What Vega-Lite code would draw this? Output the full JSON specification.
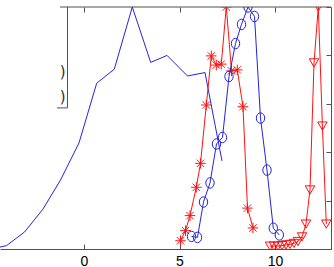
{
  "$schema": "https://vega.github.io/schema/vega-lite/v6.json",
  "width": 331,
  "height": 242,
  "autosize": {"type": "none"},
  "padding": {"left": 0, "right": 3, "top": 7, "bottom": 18},
  "background": "white",
  "config": {"view": {"stroke": null}, "axis": {"grid": false, "domainColor": "#505050", "tickColor": "#505050", "labelFont": "Liberation Sans", "labelFontSize": 14, "labelColor": "#000000"}},
  "datasets": {
    "curves": [
      {"s": "a", "x": -4.398, "y": 0.008},
      {"s": "a", "x": -4.058, "y": 0.014},
      {"s": "a", "x": -3.115, "y": 0.070},
      {"s": "a", "x": -2.147, "y": 0.165},
      {"s": "a", "x": -1.230, "y": 0.285},
      {"s": "a", "x": -0.262, "y": 0.438},
      {"s": "a", "x": 0.665, "y": 0.685},
      {"s": "a", "x": 1.586, "y": 0.743},
      {"s": "a", "x": 2.529, "y": 1.0},
      {"s": "a", "x": 3.492, "y": 0.771},
      {"s": "a", "x": 4.346, "y": 0.800},
      {"s": "a", "x": 5.419, "y": 0.715},
      {"s": "a", "x": 6.335, "y": 0.729},
      {"s": "a", "x": 7.225, "y": 0.364},
      {"s": "star", "x": 5.052, "y": 0.034},
      {"s": "star", "x": 5.314, "y": 0.076},
      {"s": "star", "x": 5.550, "y": 0.138},
      {"s": "star", "x": 5.880, "y": 0.255},
      {"s": "star", "x": 6.099, "y": 0.354},
      {"s": "star", "x": 6.403, "y": 0.595},
      {"s": "star", "x": 6.665, "y": 0.798},
      {"s": "star", "x": 6.927, "y": 0.760},
      {"s": "star", "x": 7.188, "y": 0.764},
      {"s": "star", "x": 7.450, "y": 1.0},
      {"s": "star", "x": 7.723, "y": 0.736},
      {"s": "star", "x": 8.026, "y": 0.740},
      {"s": "star", "x": 8.325, "y": 0.588},
      {"s": "star", "x": 8.560, "y": 0.169},
      {"s": "star", "x": 8.848, "y": 0.087},
      {"s": "circ", "x": 5.628, "y": 0.052},
      {"s": "circ", "x": 5.942, "y": 0.048},
      {"s": "circ", "x": 6.257, "y": 0.194},
      {"s": "circ", "x": 6.597, "y": 0.273},
      {"s": "circ", "x": 6.937, "y": 0.434},
      {"s": "circ", "x": 7.251, "y": 0.461},
      {"s": "circ", "x": 7.592, "y": 0.713},
      {"s": "circ", "x": 7.932, "y": 0.849},
      {"s": "circ", "x": 8.246, "y": 0.928},
      {"s": "circ", "x": 8.586, "y": 1.0},
      {"s": "circ", "x": 8.927, "y": 0.961},
      {"s": "circ", "x": 9.241, "y": 0.541},
      {"s": "circ", "x": 9.581, "y": 0.326},
      {"s": "circ", "x": 9.911, "y": 0.086},
      {"s": "circ", "x": 10.225, "y": 0.058},
      {"s": "tri", "x": 9.738, "y": 0.012},
      {"s": "tri", "x": 9.948, "y": 0.012},
      {"s": "tri", "x": 10.157, "y": 0.012},
      {"s": "tri", "x": 10.366, "y": 0.014},
      {"s": "tri", "x": 10.576, "y": 0.017},
      {"s": "tri", "x": 10.785, "y": 0.019},
      {"s": "tri", "x": 10.995, "y": 0.023},
      {"s": "tri", "x": 11.204, "y": 0.031},
      {"s": "tri", "x": 11.414, "y": 0.050},
      {"s": "tri", "x": 11.623, "y": 0.103},
      {"s": "tri", "x": 11.832, "y": 0.244},
      {"s": "tri", "x": 12.042, "y": 0.769},
      {"s": "tri", "x": 12.267, "y": 1.0},
      {"s": "tri", "x": 12.482, "y": 0.508},
      {"s": "tri", "x": 12.686, "y": 0.103}
    ],
    "frame": [
      {"x": -1.257, "x2": 12.932, "y": 1, "y2": 1},
      {"x": -0.864, "x2": -0.864, "y": 0.583, "y2": 1},
      {"x": -1.414, "x2": -0.864, "y": 0.583, "y2": 0.583}
    ],
    "glyphs": [
      {"x": -1.115, "y": 0.733, "t": ")"},
      {"x": -1.115, "y": 0.629, "t": ")"}
    ]
  },
  "resolve": {"axis": {"x": "independent"}},
  "layer": [
    {
      "data": {"name": "frame"},
      "mark": {"type": "rule", "color": "#505050", "strokeWidth": 1},
      "encoding": {
        "x": {"field": "x", "type": "quantitative", "scale": {"domain": [-4.398, 12.932], "nice": false, "zero": false},
              "axis": {"orient": "bottom", "values": [0, 5, 10], "title": null, "tickSize": -5, "labelPadding": 10, "format": "d", "labelFlush": false}},
        "x2": {"field": "x2"},
        "y": {"field": "y", "type": "quantitative", "scale": {"domain": [0, 1], "nice": false, "zero": false},
              "axis": {"orient": "right", "values": [0, 0.2, 0.4, 0.6, 0.8, 1], "labels": false, "title": null, "tickSize": -5}},
        "y2": {"field": "y2"}
      }
    },
    {
      "data": {"name": "curves"},
      "transform": [{"filter": "datum.s === 'a'"}],
      "mark": {"type": "line", "color": "#2424dc", "strokeWidth": 1, "clip": true},
      "encoding": {
        "x": {"field": "x", "type": "quantitative",
              "axis": {"orient": "top", "values": [0, 5, 10], "labels": false, "domain": false, "title": null, "tickSize": -5}},
        "y": {"field": "y", "type": "quantitative"}
      }
    },
    {
      "data": {"name": "curves"},
      "transform": [{"filter": "datum.s === 'star'"}],
      "mark": {"type": "line", "color": "#ff1010", "strokeWidth": 1, "clip": true,
               "point": {"shape": "M-1,0L1,0M0,-1L0,1M-0.7,-0.7L0.7,0.7M-0.7,0.7L0.7,-0.7", "filled": false, "stroke": "#ff1010", "strokeWidth": 1, "size": 110}},
      "encoding": {
        "x": {"field": "x", "type": "quantitative", "axis": null},
        "y": {"field": "y", "type": "quantitative"}
      }
    },
    {
      "data": {"name": "curves"},
      "transform": [{"filter": "datum.s === 'circ'"}],
      "mark": {"type": "line", "color": "#2424dc", "strokeWidth": 1, "clip": true,
               "point": {"shape": "M-0.8,0A0.8,1,0,1,0,0.8,0A0.8,1,0,1,0,-0.8,0Z", "filled": false, "stroke": "#2424dc", "strokeWidth": 1, "size": 110}},
      "encoding": {
        "x": {"field": "x", "type": "quantitative", "axis": null},
        "y": {"field": "y", "type": "quantitative"}
      }
    },
    {
      "data": {"name": "curves"},
      "transform": [{"filter": "datum.s === 'tri'"}],
      "mark": {"type": "line", "color": "#ff1010", "strokeWidth": 1, "clip": true,
               "point": {"shape": "triangle-down", "filled": false, "stroke": "#ff1010", "strokeWidth": 1, "size": 90}},
      "encoding": {
        "x": {"field": "x", "type": "quantitative", "axis": null},
        "y": {"field": "y", "type": "quantitative"}
      }
    },
    {
      "data": {"name": "glyphs"},
      "mark": {"type": "text", "font": "DejaVu Sans", "fontSize": 15, "color": "#303030", "baseline": "middle", "align": "center"},
      "encoding": {
        "x": {"field": "x", "type": "quantitative", "axis": null},
        "y": {"field": "y", "type": "quantitative"},
        "text": {"field": "t"}
      }
    }
  ]
}
